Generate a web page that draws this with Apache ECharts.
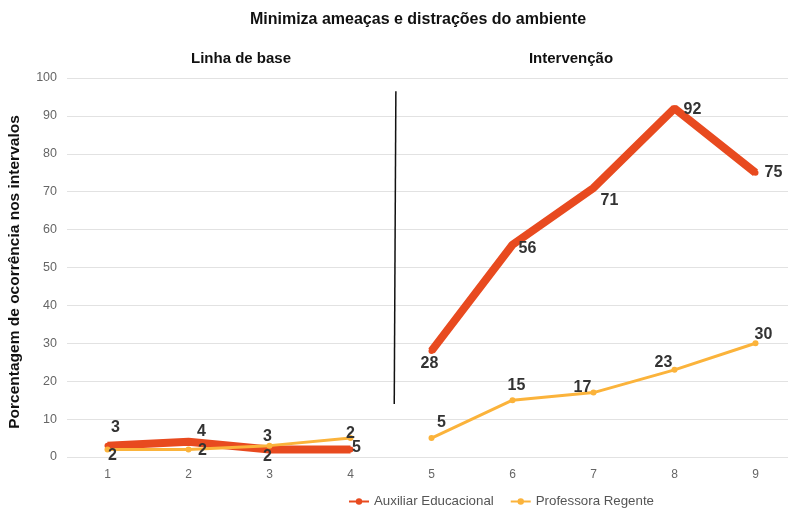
<!DOCTYPE html>
<html>
<head>
<meta charset="utf-8">
<script src="https://cdn.jsdelivr.net/npm/echarts@6/dist/echarts.min.js"></script>
<style>
  html, body { margin: 0; padding: 0; background: #fff; }
</style>
</head>
<body>
<div id="chart" style="width:788px;height:508px;"></div>
<script>
// sessões
var sessions = ["1", "2", "3", "4", "5", "6", "7", "8", "9"];
var baselineCount = 4;

// valores
var auxValues = [3, 4, 2, 2, 28, 56, 71, 92, 75];
var profValues = [2, 2, 3, 5, 5, 15, 17, 23, 30];

// rótulos como aparecem no gráfico original
var auxLabels = ["3", "4", "2", "5", "28", "56", "71", "92", "75"];
var profLabels = ["2", "2", "3", "2", "5", "15", "17", "23", "30"];

// linha divisória entre fases (posição no eixo das sessões)
var dividerLine = [[4.56, 96.5], [4.54, 14]];

// deslocamento dos rótulos (estilo)
var auxOffsets = [[8, -18], [13, -10], [-2, 7], [6, -2], [-2, 13], [15, 4], [16, 13], [18, 1], [18, 0]];
var profOffsets = [[5, 6], [14, 1], [-2, -9], [0, -4], [10, -15], [4, -15], [-11, -5], [-11, -7], [8, -9]];

var red = "#E84A1F";
var yellow = "#FBB33B";

function phase(values, offsets, labels, inBaseline) {
  var out = [];
  for (var i = 0; i < values.length; i++) {
    var keep = inBaseline ? i < baselineCount : i >= baselineCount;
    if (!keep) {
      out.push(null);
      continue;
    }
    out.push({
      value: values[i],
      label: { show: true, position: "inside", offset: offsets[i], formatter: labels[i] }
    });
  }
  return out;
}

var labelStyle = {
  color: "#333",
  fontSize: 16,
  fontWeight: "bold",
  fontFamily: "Liberation Sans, Arial, sans-serif"
};

function lineSeries(name, color, width, values, offsets, labels, inBaseline) {
  return {
    name: name,
    type: "line",
    xAxisIndex: 0,
    data: phase(values, offsets, labels, inBaseline),
    symbol: "circle",
    symbolSize: 6,
    showAllSymbol: true,
    connectNulls: false,
    lineStyle: { color: color, width: width },
    itemStyle: { color: color },
    label: labelStyle,
    z: width > 4 ? 2 : 3
  };
}

var chart = echarts.init(document.getElementById("chart"));

var option = {
  animation: false,
  textStyle: { fontFamily: "Liberation Sans, Arial, sans-serif" },
  title: [
    {
      text: "Minimiza ameaças e distrações do ambiente",
      left: 413,
      textAlign: "center",
      top: 7,
      textStyle: { fontSize: 16, fontWeight: "bold", color: "#111" }
    },
    {
      text: "Linha de base",
      left: 236,
      textAlign: "center",
      top: 46,
      textStyle: { fontSize: 15, fontWeight: "bold", color: "#111" }
    },
    {
      text: "Intervenção",
      left: 566,
      textAlign: "center",
      top: 46,
      textStyle: { fontSize: 15, fontWeight: "bold", color: "#111" }
    }
  ],
  legend: {
    data: ["Auxiliar Educacional", "Professora Regente"],
    left: 343,
    top: 490,
    itemWidth: 20,
    itemHeight: 8,
    itemGap: 16,
    textStyle: { fontSize: 13.3, color: "#555" }
  },
  grid: { left: 67, width: 729, top: 78, bottom: 51, outerBoundsMode: "none" },
  xAxis: [
    {
      type: "category",
      data: sessions,
      boundaryGap: true,
      axisLine: { show: false },
      axisTick: { show: false },
      axisLabel: { color: "#666", fontSize: 12, margin: 12 }
    },
    {
      type: "value",
      min: 0.5,
      max: 9.5,
      show: false
    }
  ],
  yAxis: {
    type: "value",
    min: 0,
    max: 100,
    interval: 10,
    name: "Porcentagem de ocorrência nos intervalos",
    nameLocation: "middle",
    nameGap: 44,
    nameTextStyle: { fontSize: 15.5, fontWeight: "bold", color: "#111", padding: [0, 9, 0, 0] },
    axisLine: { show: false },
    axisTick: { show: false },
    axisLabel: { color: "#666", fontSize: 12.5, margin: 10 },
    splitLine: { lineStyle: { color: "#e2e2e2", width: 1 } }
  },
  series: [
    lineSeries("Auxiliar Educacional", red, 8, auxValues, auxOffsets, auxLabels, true),
    lineSeries("Auxiliar Educacional", red, 8, auxValues, auxOffsets, auxLabels, false),
    lineSeries("Professora Regente", yellow, 3, profValues, profOffsets, profLabels, true),
    lineSeries("Professora Regente", yellow, 3, profValues, profOffsets, profLabels, false),
    {
      name: "divisor",
      type: "line",
      xAxisIndex: 1,
      data: dividerLine,
      symbol: "none",
      silent: true,
      lineStyle: { color: "#111", width: 1.5 },
      z: 1
    }
  ]
};

chart.setOption(option);
</script>
</body>
</html>
